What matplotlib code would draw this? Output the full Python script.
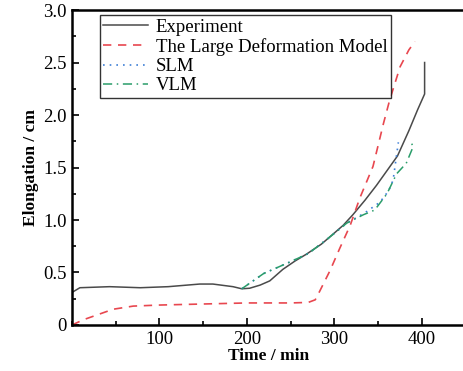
import matplotlib
matplotlib.use("Agg")
import matplotlib.pyplot as plt
from matplotlib.ticker import MultipleLocator

# data
exp_t = [0, 9, 43, 78, 110, 146, 161, 184, 194, 203, 215, 226, 241, 255, 268, 285, 299, 310, 321, 335, 348, 360, 372, 385, 395, 403, 403]
exp_y = [0.31, 0.355, 0.365, 0.355, 0.365, 0.39, 0.39, 0.365, 0.345, 0.35, 0.38, 0.42, 0.53, 0.61, 0.675, 0.77, 0.87, 0.95, 1.05, 1.19, 1.33, 1.47, 1.61, 1.85, 2.05, 2.2, 2.5]

ldm_t = [0, 13, 30, 47, 70, 100, 150, 200, 250, 270, 278, 283, 295, 306, 318, 329, 344, 356, 363, 375, 385, 392]
ldm_y = [0.0, 0.05, 0.1, 0.15, 0.18, 0.19, 0.2, 0.21, 0.21, 0.215, 0.24, 0.32, 0.52, 0.73, 0.95, 1.21, 1.51, 1.92, 2.14, 2.46, 2.62, 2.70]

slm_t = [194, 219, 249, 270, 292, 314, 335, 352, 362, 367, 373]
slm_y = [0.345, 0.49, 0.6, 0.68, 0.82, 0.97, 1.07, 1.17, 1.28, 1.38, 1.74]

vlm_t = [194, 219, 249, 270, 292, 314, 333, 346, 360, 371, 382, 390, 388]
vlm_y = [0.345, 0.49, 0.6, 0.68, 0.82, 0.97, 1.05, 1.095, 1.25, 1.44, 1.54, 1.70, 1.73]

plt.rcParams['font.family'] = ['Liberation Serif', 'DejaVu Serif']

fig = plt.figure(figsize=(4.63, 3.71), dpi=100)
ax = fig.add_axes([0.1555, 0.124, 0.8504, 0.849])

ax.plot(exp_t, exp_y, color='#4a4a4a', lw=1.1, label='Experiment')
ax.plot(ldm_t, ldm_y, color='#e8474f', lw=1.2, ls=(0, (5, 4)), label='The Large Deformation Model')
ax.plot(slm_t, slm_y, color='#3d7fd6', lw=1.2, ls=(0, (1, 3)), label='SLM')
ax.plot(vlm_t, vlm_y, color='#2a9d6a', lw=1.1, ls=(0, (6, 3, 1, 3)), label='VLM')

ax.set_xlim(0, 450)
ax.set_ylim(0, 3.0)
ax.xaxis.set_minor_locator(MultipleLocator(50))
ax.yaxis.set_minor_locator(MultipleLocator(0.25))
ax.set_xticks([100, 200, 300, 400])
ax.set_yticks([0, 0.5, 1.0, 1.5, 2.0, 2.5, 3.0])
ax.set_yticklabels(['0', '0.5', '1.0', '1.5', '2.0', '2.5', '3.0'])
ax.tick_params(which='both', direction='in', labelsize=13.5, top=False, right=False)
ax.tick_params(which='major', length=5, width=1.2, pad=4)
ax.tick_params(which='minor', length=3, width=1.2)

for s in ['left', 'bottom', 'top']:
    ax.spines[s].set_linewidth(1.8)
ax.spines['right'].set_visible(False)

ax.set_xlabel('Time / min', fontsize=12.5, fontweight='bold', labelpad=0)
ax.set_ylabel('Elongation / cm', fontsize=12.5, fontweight='bold', labelpad=3)

leg = ax.legend(loc='upper left', bbox_to_anchor=(0.07, 0.985), fontsize=13.5,
                frameon=True, fancybox=False, handlelength=2.4, labelspacing=0.12,
                borderpad=0.2, handletextpad=0.4, borderaxespad=0)
leg.get_frame().set_edgecolor('black')
leg.get_frame().set_linewidth(1.0)

fig.savefig('out.png', dpi=100)
